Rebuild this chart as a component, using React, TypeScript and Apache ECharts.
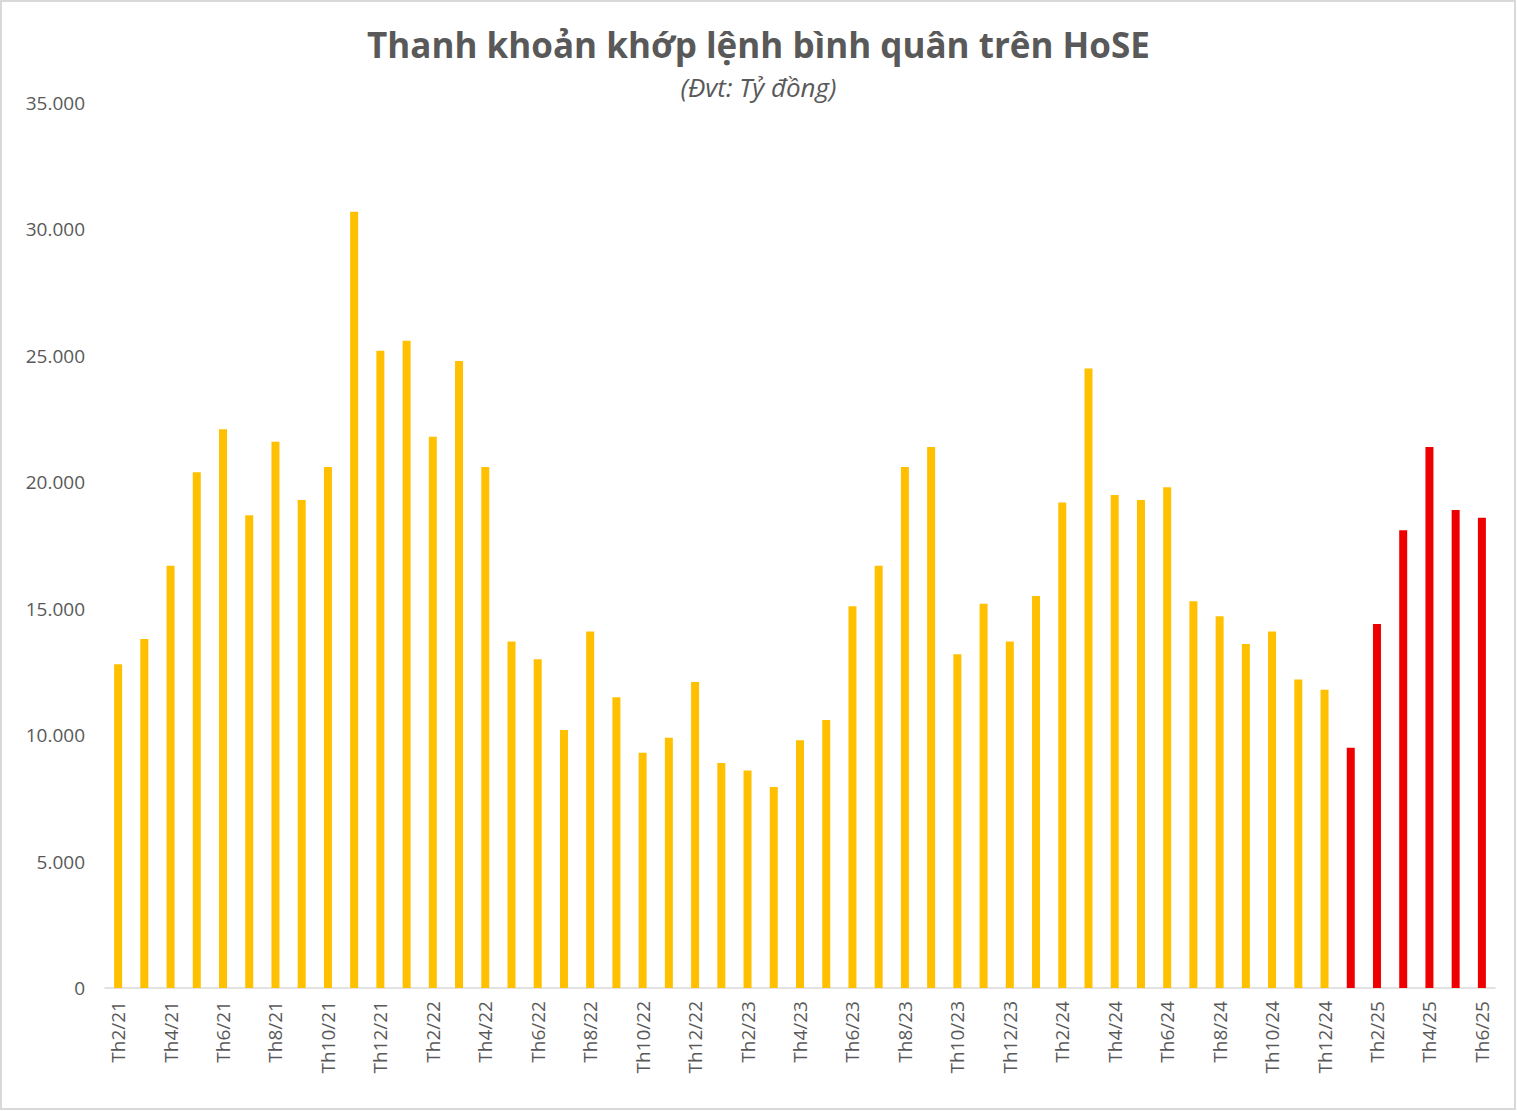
import React, { useEffect, useRef } from "react";
import * as echarts from "echarts";

const categories: string[] = [
  "Th2/21", "Th3/21", "Th4/21", "Th5/21", "Th6/21", "Th7/21", "Th8/21", "Th9/21", "Th10/21", "Th11/21", "Th12/21",
  "Th1/22", "Th2/22", "Th3/22", "Th4/22", "Th5/22", "Th6/22", "Th7/22", "Th8/22", "Th9/22", "Th10/22", "Th11/22", "Th12/22",
  "Th1/23", "Th2/23", "Th3/23", "Th4/23", "Th5/23", "Th6/23", "Th7/23", "Th8/23", "Th9/23", "Th10/23", "Th11/23", "Th12/23",
  "Th1/24", "Th2/24", "Th3/24", "Th4/24", "Th5/24", "Th6/24", "Th7/24", "Th8/24", "Th9/24", "Th10/24", "Th11/24", "Th12/24",
  "Th1/25", "Th2/25", "Th3/25", "Th4/25", "Th5/25", "Th6/25",
];

const values: number[] = [
  12800, 13800, 16700, 20400, 22100, 18700, 21600, 19300, 20600, 30700, 25200,
  25600, 21800, 24800, 20600, 13700, 13000, 10200, 14100, 11500, 9300, 9900, 12100,
  8900, 8600, 7950, 9800, 10600, 15100, 16700, 20600, 21400, 13200, 15200, 13700,
  15500, 19200, 24500, 19500, 19300, 19800, 15300, 14700, 13600, 14100, 12200, 11800,
  9500, 14400, 18100, 21400, 18900, 18600,
];

const highlightYear = "/25";
const yTicks = { min: 0, max: 35000, interval: 5000 };

const COLOR_MAIN = "#FFC000";
const COLOR_HIGHLIGHT = "#EE0000";
const TEXT = "#595959";
const FONT = "'Open Sans', 'Noto Sans', sans-serif";

function fmt(v: number): string {
  return String(v).replace(/\B(?=(\d{3})+(?!\d))/g, ".");
}

export default function App() {
  const ref = useRef<HTMLDivElement>(null);
  useEffect(() => {
    if (!ref.current) return;
    const chart = echarts.init(ref.current, undefined, { renderer: "svg" });
    chart.setOption({
      animation: false,
      backgroundColor: "#ffffff",
      title: [
        {
          text: "Thanh khoản khớp lệnh bình quân trên HoSE",
          left: "center",
          top: 22,
          textStyle: { fontFamily: FONT, fontSize: 35, fontWeight: "bold", color: TEXT },
        },
        {
          text: "(Đvt: Tỷ đồng)",
          left: "center",
          top: 69,
          textStyle: { fontFamily: FONT, fontSize: 26, fontStyle: "italic", fontWeight: "normal", color: TEXT },
        },
      ],
      graphic: [
        {
          type: "rect",
          shape: { x: 1, y: 1, width: 1514, height: 1108 },
          style: { fill: "none", stroke: "#d9d9d9", lineWidth: 2 },
          silent: true,
        },
      ],
      grid: { left: 105, right: 22, top: 103, bottom: 123, containLabel: false },
      xAxis: {
        type: "category",
        data: categories,
        axisLine: { show: true, lineStyle: { color: "#d9d9d9", width: 1.5 } },
        axisTick: { show: false },
        axisLabel: {
          interval: 1,
          rotate: 90,
          margin: 13,
          color: TEXT,
          fontSize: 19,
          fontFamily: FONT,
        },
      },
      yAxis: {
        type: "value",
        min: yTicks.min,
        max: yTicks.max,
        interval: yTicks.interval,
        splitLine: { show: false },
        axisLine: { show: false },
        axisTick: { show: false },
        axisLabel: {
          margin: 20,
          color: TEXT,
          fontSize: 19,
          fontFamily: FONT,
          formatter: (v: number) => fmt(v),
        },
      },
      series: [
        {
          type: "bar",
          barWidth: 8,
          data: values.map((v, i) => ({
            value: v,
            itemStyle: { color: categories[i].endsWith(highlightYear) ? COLOR_HIGHLIGHT : COLOR_MAIN },
          })),
        },
      ],
    });
    return () => chart.dispose();
  }, []);
  return (
    <div
      ref={ref}
      style={{ position: "absolute", left: 0, top: 0, width: 1517, height: 1111 }}
    />
  );
}
